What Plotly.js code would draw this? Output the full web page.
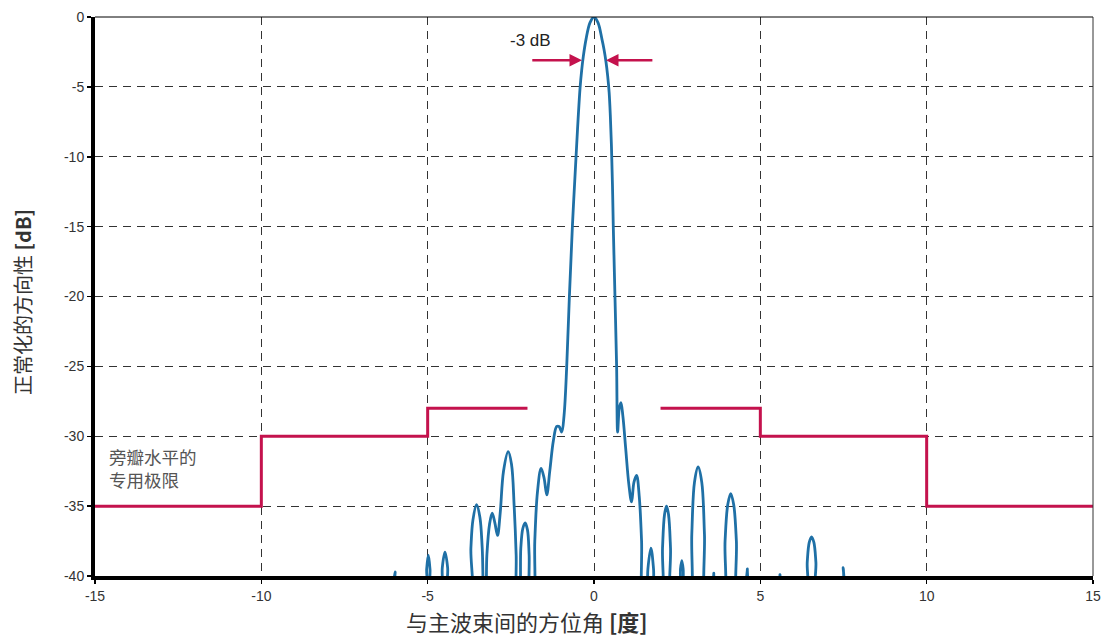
<!DOCTYPE html>
<html>
<head>
<meta charset="utf-8">
<script src="https://cdn.plot.ly/plotly-3.0.1.min.js"></script>
<style>
html,body{margin:0;padding:0;background:#fff;}
#chart{width:1108px;height:636px;}
</style>
</head>
<body>
<div id="chart"></div>
<script>
// Measured antenna pattern (degrees, dB)
const angle = [
-6.05, -5.98, -5.92,
-5.06, -5.03, -4.98, -4.93, -4.90,
-4.60, -4.56, -4.48, -4.40, -4.36,
-3.75, -3.70, -3.64, -3.53, -3.43, -3.36, -3.29,
-3.27, -3.22, -3.14, -3.06, -2.98, -2.90, -2.82, -2.72, -2.58, -2.48, -2.40, -2.34, -2.31,
-2.26, -2.20, -2.14, -2.07, -2.00, -1.95, -1.91,
-1.83, -1.78, -1.70, -1.59, -1.50, -1.42, -1.33, -1.22, -1.12, -1.05, -0.97, -0.90, -0.82, -0.74, -0.65, -0.54, -0.48, -0.42, -0.37, -0.32, -0.24, -0.12, 0, 0.12, 0.24, 0.30, 0.36, 0.41, 0.455, 0.49, 0.525, 0.555, 0.58, 0.63, 0.68, 0.71, 0.76, 0.81, 0.87, 0.95, 1.05, 1.13, 1.20, 1.28, 1.36, 1.43, 1.48,
1.57, 1.62, 1.71, 1.79, 1.84,
2.02, 2.06, 2.12, 2.18, 2.24, 2.30, 2.34,
2.55, 2.60, 2.64, 2.68, 2.73,
2.88, 2.94, 3.02, 3.13, 3.24, 3.32, 3.38,
3.57, 3.60, 3.63,
3.88, 3.94, 4.02, 4.11, 4.20, 4.28, 4.34,
4.57, 4.61, 4.65,
5.56, 5.59, 5.62,
6.36, 6.41, 6.47, 6.54, 6.61, 6.67, 6.72,
7.45, 7.49, 7.53
];
const gain = [
-42, -39.7, -42,
-42, -39.5, -38.5, -39.5, -42,
-42, -39.4, -38.3, -39.4, -42,
-42, -38, -36, -34.9, -35.8, -38, -42,
-42, -38.5, -36.3, -35.5, -36.2, -37.1, -35.5, -32.5, -31.1, -32.0, -35, -38.5, -42,
-42, -38, -36.6, -36.2, -36.7, -38.5, -42,
-42, -37.5, -34, -32.3, -33.0, -34.2, -32.5, -30.3, -29.3, -29.3, -29.7, -28.5, -25, -20, -15, -10, -7.4, -5.1, -3.8, -2.8, -1.6, -0.4, 0, -0.4, -1.6, -2.3, -3.2, -4.2, -5.4, -7.0, -9.3, -12, -15, -20, -25, -29.7, -28.0, -27.6, -28.6, -30.8, -33.5, -34.7, -33.3, -32.8, -34.3, -37.5, -42,
-42, -39.5, -38.0, -39.5, -42,
-42, -38, -35.6, -35.0, -35.6, -38, -42,
-42, -39.5, -38.9, -39.5, -42,
-42, -37, -33.3, -32.2, -33.3, -37, -42,
-42, -39.8, -42,
-42, -37.5, -34.9, -34.1, -34.9, -37.5, -42,
-42, -39.5, -42,
-42, -39.9, -42,
-42, -39, -37.6, -37.2, -37.6, -39, -42,
-42, -39.4, -42
];
// Side-lobe limit mask
const limitLeftX = [-15, -10, -10, -5, -5, -2];
const limitLeftY = [-35, -35, -30, -30, -28, -28];
const limitRightX = [2, 5, 5, 10, 10, 15];
const limitRightY = [-28, -28, -30, -30, -35, -35];
// Ticks
const xTickVals = [-15, -10, -5, 0, 5, 10, 15];
const xTickText = ['-15', '-10', '-5', '0', '5', '10', '15'];
const yTickVals = [0, -5, -10, -15, -20, -25, -30, -35, -40];
const yTickText = ['0', '-5', '-10', '-15', '-20', '-25', '-30', '-35', '-40'];
// -3 dB beamwidth arrows
const arrowTailX = [-1.9, 1.8];
const arrowHeadX = [-0.36, 0.36];
const arrowY = -3.1;
// Limit label lines
const limitLabel = ['旁瓣水平的', '专用极限'];
const limitLabelY = [-31.48, -33.13];

const red = '#c4124d';
const blue = '#1f70a6';

const traces = [
  {x: angle, y: gain, mode: 'lines', line: {color: blue, width: 2.8, shape: 'spline', smoothing: 1}, hoverinfo: 'skip'},
  {x: limitLeftX, y: limitLeftY, mode: 'lines', line: {color: red, width: 3}, hoverinfo: 'skip'},
  {x: limitRightX, y: limitRightY, mode: 'lines', line: {color: red, width: 3}, hoverinfo: 'skip'}
];

const annotations = [];
for (let i = 0; i < arrowTailX.length; i++) {
  annotations.push({
    x: arrowHeadX[i], y: arrowY, ax: arrowTailX[i], ay: arrowY,
    xref: 'x', yref: 'y', axref: 'x', ayref: 'y',
    text: '', showarrow: true, arrowhead: 2, arrowsize: 1, arrowwidth: 2.5,
    arrowcolor: red, standoff: 0, startstandoff: 0
  });
}
annotations.push({
  x: -1.92, y: -1.65, xref: 'x', yref: 'y', text: '-3 dB', showarrow: false,
  font: {family: 'Liberation Sans, Arial, sans-serif', size: 17, color: '#222'},
  xanchor: 'center', yanchor: 'middle'
});
for (let i = 0; i < limitLabel.length; i++) {
  annotations.push({
    x: -14.62, y: limitLabelY[i], xref: 'x', yref: 'y', text: limitLabel[i], showarrow: false,
    font: {family: 'Noto Sans CJK SC, sans-serif', size: 17.5, color: '#555'},
    xanchor: 'left', yanchor: 'middle', align: 'left', borderpad: 0
  });
}
// Axis titles placed with paper coords (relative to plot area: x 95..1093, y 17..576)
annotations.push({
  x: (22 - 95) / 998, y: (576 - 302) / 559, xref: 'paper', yref: 'paper', textangle: -90,
  text: '正常化的方向性 <b>[dB]</b>', showarrow: false,
  font: {family: 'Noto Sans CJK SC, sans-serif', size: 20, color: '#333'},
  xanchor: 'center', yanchor: 'middle'
});
annotations.push({
  x: (527 - 95) / 998, y: (576 - 621) / 559, xref: 'paper', yref: 'paper',
  text: '与主波束间的方位角 <b>[度]</b>', showarrow: false,
  font: {family: 'Noto Sans CJK SC, sans-serif', size: 22, color: '#333'},
  xanchor: 'center', yanchor: 'middle'
});

const layout = {
  width: 1108, height: 636,
  margin: {l: 95, r: 15, t: 17, b: 60},
  paper_bgcolor: '#fff', plot_bgcolor: '#fff',
  showlegend: false,
  xaxis: {
    range: [-15, 15], tickvals: xTickVals, ticktext: xTickText,
    showgrid: true, gridcolor: '#333', gridwidth: 1, griddash: '8px,6px',
    zeroline: false, showline: true, linecolor: '#000', linewidth: 4,
    ticks: 'outside', ticklen: 4, tickwidth: 1.5, tickcolor: '#000',
    tickfont: {family: 'Liberation Sans, Arial, sans-serif', size: 14, color: '#333'},
    fixedrange: true
  },
  yaxis: {
    range: [-40, 0], tickvals: yTickVals, ticktext: yTickText,
    showgrid: true, gridcolor: '#333', gridwidth: 1, griddash: '8px,6px',
    zeroline: false, showline: true, linecolor: '#000', linewidth: 4,
    ticks: 'outside', ticklen: 4, tickwidth: 1.5, tickcolor: '#000',
    tickfont: {family: 'Liberation Sans, Arial, sans-serif', size: 14, color: '#333'},
    fixedrange: true
  },
  shapes: [
    {type: 'line', xref: 'paper', yref: 'paper', x0: 0, x1: 1, y0: 1, y1: 1, line: {color: '#000', width: 1}},
    {type: 'line', xref: 'paper', yref: 'paper', x0: 1, x1: 1, y0: 0, y1: 1, line: {color: '#333', width: 1}}
  ],
  annotations: annotations
};

Plotly.newPlot('chart', traces, layout, {displayModeBar: false, staticPlot: true});
</script>
</body>
</html>
